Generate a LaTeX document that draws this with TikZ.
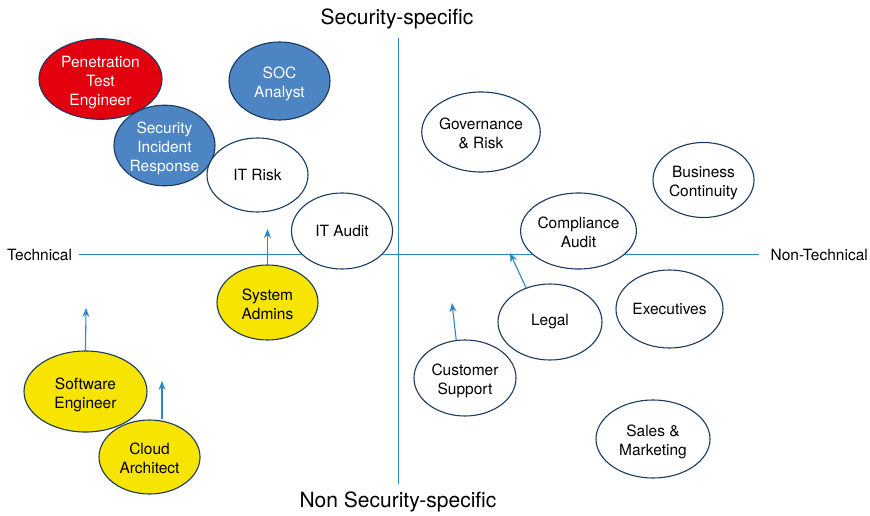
\documentclass[tikz,border=0pt]{standalone}
\usepackage{fontspec}
\setmainfont{TeX Gyre Heros}
\usetikzlibrary{shapes.geometric,arrows.meta}
\definecolor{axisblue}{HTML}{2B88C8}
\definecolor{rimblue}{HTML}{1C3A5E}
\definecolor{penred}{HTML}{E2000F}
\definecolor{socblue}{HTML}{4D84C4}
\definecolor{sysyellow}{HTML}{F7E400}
% stacked, centred lines of a role name, set a little low in the box
\newcommand{\rolelines}[1]{\raisebox{-3.5pt}[\height][\depth]{\begin{tabular}{@{}c@{}}#1\end{tabular}}}
\begin{document}
\begin{tikzpicture}[x=1pt,y=-1pt,
  role/.style={ellipse,draw=rimblue,line width=1.1pt,inner sep=0pt,
    font=\fontsize{15.5}{19}\selectfont,text=black},
  whiterole/.style={role,fill=white},
  redrole/.style={role,fill=penred,text=white},
  bluerole/.style={role,fill=socblue,text=white},
  yellowrole/.style={role,fill=sysyellow},
  axis/.style={draw=axisblue,line width=1pt},
  moveto/.style={draw=axisblue,line width=1.1pt,-{Stealth[length=9pt,width=7pt]}},
  axislabel/.style={font=\fontsize{15.5}{18}\selectfont,inner sep=0pt},
  title/.style={font=\fontsize{21}{24}\selectfont,inner sep=0pt}]
\useasboundingbox (0,0) rectangle (870,516);
\fill[white] (0,0) rectangle (870,516);

% quadrant axes
\coordinate (vtop) at (398,38);
\coordinate (vbot) at (398,484);
\coordinate (hleft) at (79,254);
\coordinate (hright) at (759,254);
\draw[axis] (vtop) -- (vbot);
\draw[axis] (hleft) -- (hright);

\node[title] (sec) at (397,18.5) {Security-specific};
\node[title] (nonsec) at (398,502) {Non Security-specific};
\node[axislabel,anchor=west] (tech) at (7,255) {Technical};
\node[axislabel,anchor=east] (nontech) at (868,255) {Non-Technical};

% technical, non security-specific roles (below the axis)
\node[yellowrole,minimum width=101pt,minimum height=75pt] (sys) at (267.5,302.5) {\rolelines{System\\Admins}};
\node[yellowrole,minimum width=123pt,minimum height=81pt] (swe) at (85.5,391.5) {\rolelines{Software\\Engineer}};
\node[yellowrole,minimum width=101pt,minimum height=74pt] (cloud) at (149.5,457) {\rolelines{Cloud\\Architect}};

% technical, security-specific roles
\node[redrole,minimum width=123pt,minimum height=80pt] (pen) at (100.5,79) {\rolelines{Penetration\\Test\\Engineer}};
\node[bluerole,minimum width=101pt,minimum height=78pt] (soc) at (279.5,81) {\rolelines{SOC\\Analyst}};
\node[bluerole,minimum width=101pt,minimum height=75pt] (sir) at (164.5,145.5) {\rolelines{Security\\Incident\\Response}};
\node[whiterole,minimum width=101pt,minimum height=74pt] (itrisk) at (257.5,175) {IT Risk};
\node[whiterole,minimum width=101pt,minimum height=76pt] (itaudit) at (342,231) {IT Audit};

% non-technical roles
\node[whiterole,minimum width=114pt,minimum height=80pt] (gov) at (481,132) {\rolelines{Governance\\\& Risk}};
\node[whiterole,minimum width=101pt,minimum height=75pt] (bc) at (703.5,180) {\rolelines{Business\\Continuity}};
\node[whiterole,minimum width=114pt,minimum height=76pt] (comp) at (578.5,231) {\rolelines{Compliance\\Audit}};
\node[whiterole,minimum width=107pt,minimum height=78pt] (exec) at (669.5,309) {Executives};
\node[whiterole,minimum width=104pt,minimum height=76pt] (legal) at (550,322) {Legal};
\node[whiterole,minimum width=102pt,minimum height=76pt] (cust) at (465,378) {\rolelines{Customer\\Support}};
\node[whiterole,minimum width=114pt,minimum height=78pt] (sales) at (653,439) {\rolelines{Sales \&\\Marketing}};

% career movement arrows
\coordinate (sysgoal) at (267.5,229);
\coordinate (swegoal) at (86,308);
\coordinate (cloudgoal) at (162,381);
\coordinate (legalgoal) at (510,253);
\coordinate (custgoal) at (452,303);
\draw[moveto] (sys.north) -- (sysgoal);
\draw[moveto] (swe.north) -- (swegoal);
\draw[moveto] (cloud.north -| cloudgoal) -- (cloudgoal);
\draw[moveto] (legal.125) -- (legalgoal);
\draw[moveto] (cust.103) -- (custgoal);
\end{tikzpicture}
\end{document}
